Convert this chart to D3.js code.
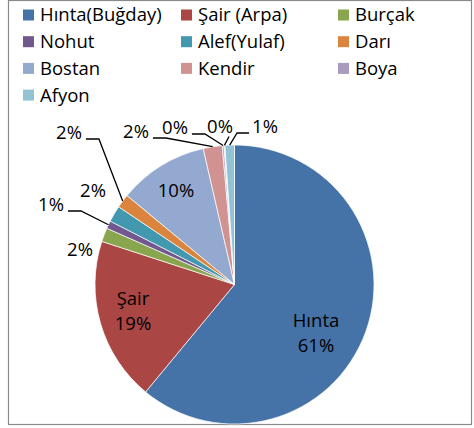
<!DOCTYPE html>
<html>
<head>
<meta charset="utf-8">
<script src="https://cdn.jsdelivr.net/npm/d3@7"></script>
<style>
  html, body { margin: 0; padding: 0; background: #fff; }
</style>
</head>
<body>
<script>
// crop shares (percent of total)
const categories = ['Hınta(Buğday)', 'Şair (Arpa)', 'Burçak', 'Nohut', 'Alef(Yulaf)', 'Darı', 'Bostan', 'Kendir', 'Boya', '', 'Afyon'];
const values = [61, 19, 1.6, 0.9, 1.9, 1.6, 10.4, 2.2, 0.2, 0.1, 1.1];
const sliceLabels = [['Hınta', '61%'], ['Şair', '19%'], ['2%'], ['1%'], ['2%'], ['2%'], ['10%'], ['2%'], ['0%'], ['0%'], ['1%']];
const colors = ['#4572A7', '#AA4643', '#89A54E', '#71588F', '#4198AF', '#DB843D', '#93A9CF', '#D19392', '#A99BBD', '#D6CCE2', '#92C3D4'];

const width = 474;
const height = 428;
const cx = 234.5, cy = 284.5, radius = 139.5;
const font = '18.5px "Open Sans", sans-serif';

// where Excel's "best fit" put each label, and how its leader line leaves it
const labelLayout = [
  { x: 316, y: 321, leader: null },
  { x: 133, y: 299, leader: null },
  { x: 80, y: 250, leader: null },
  { x: 51, y: 205, leader: 'left' },
  { x: 93, y: 191, leader: null },
  { x: 69, y: 133, leader: 'left' },
  { x: 176, y: 191, leader: null },
  { x: 136, y: 132, leader: 'left' },
  { x: 175, y: 128, leader: 'left' },
  { x: 220, y: 127, leader: 'below' },
  { x: 265, y: 127, leader: 'right' },
];

const data = categories.map((name, i) => ({ name, value: values[i], color: colors[i], label: sliceLabels[i], pos: labelLayout[i] }));

const svg = d3.select('body')
  .append('svg')
  .attr('width', width)
  .attr('height', height)
  .style('display', 'block')
  .style('font', font);

svg.append('rect')
  .attr('x', 8.5)
  .attr('y', 0.5)
  .attr('width', 463)
  .attr('height', 424)
  .attr('fill', '#fff')
  .attr('stroke', '#8a8a8a')
  .attr('stroke-width', 1.2);

// legend, three columns
const legendItems = data.filter(d => d.name !== '');
const legend = svg.append('g')
  .selectAll('g')
  .data(legendItems)
  .join('g')
    .attr('transform', (d, i) => `translate(${[23, 181, 338][i % 3]},${15 + Math.floor(i / 3) * 26.7})`);

legend.append('rect')
  .attr('x', 0)
  .attr('y', -5.5)
  .attr('width', 11)
  .attr('height', 11)
  .attr('fill', d => d.color);

legend.append('text')
  .attr('x', 17)
  .attr('dy', '0.35em')
  .attr('fill', '#000')
  .text(d => d.name);

// pie
const pie = d3.pie().value(d => d.value).sort(null);
const arcs = pie(data);
const arc = d3.arc().innerRadius(0).outerRadius(radius);
const rim = d3.arc().innerRadius(radius).outerRadius(radius);

const g = svg.append('g').attr('transform', `translate(${cx},${cy})`);

g.selectAll('path')
  .data(arcs)
  .join('path')
    .attr('d', arc)
    .attr('fill', d => d.data.color)
    .attr('stroke', '#fff')
    .attr('stroke-width', 0.7);

// labels
const labels = svg.append('g')
  .selectAll('text')
  .data(arcs)
  .join('text')
    .attr('text-anchor', 'middle')
    .attr('fill', '#000')
    .attr('x', d => d.data.pos.x)
    .attr('y', d => d.data.pos.y);

labels.selectAll('tspan')
  .data(d => d.data.label.map(t => ({ t, x: d.data.pos.x })))
  .join('tspan')
    .attr('x', d => d.x)
    .attr('dy', (d, i) => i === 0 ? '0.35em' : '1.3em')
    .text(d => d.t);

// leader lines from label box to the slice rim
const leaders = svg.append('g')
  .attr('fill', 'none')
  .attr('stroke', '#000')
  .attr('stroke-width', 1.3);

labels.each(function(d) {
  const type = d.data.pos.leader;
  if (!type) return;
  const box = this.getBBox();
  const [px, py] = rim.centroid(d);
  const end = [cx + px, cy + py];
  let pts;
  if (type === 'left') {
    const sx = box.x + box.width + 4;
    const sy = d.data.pos.y + 6;
    pts = [[sx, sy], [sx + 13, sy], end];
  } else if (type === 'right') {
    const sx = box.x - 3;
    const sy = d.data.pos.y + 6;
    pts = [[sx, sy], [sx - 12, sy], end];
  } else {
    pts = [[d.data.pos.x + 9, box.y + box.height - 2], end];
  }
  leaders.append('path').attr('d', d3.line()(pts));
});
</script>
</body>
</html>
